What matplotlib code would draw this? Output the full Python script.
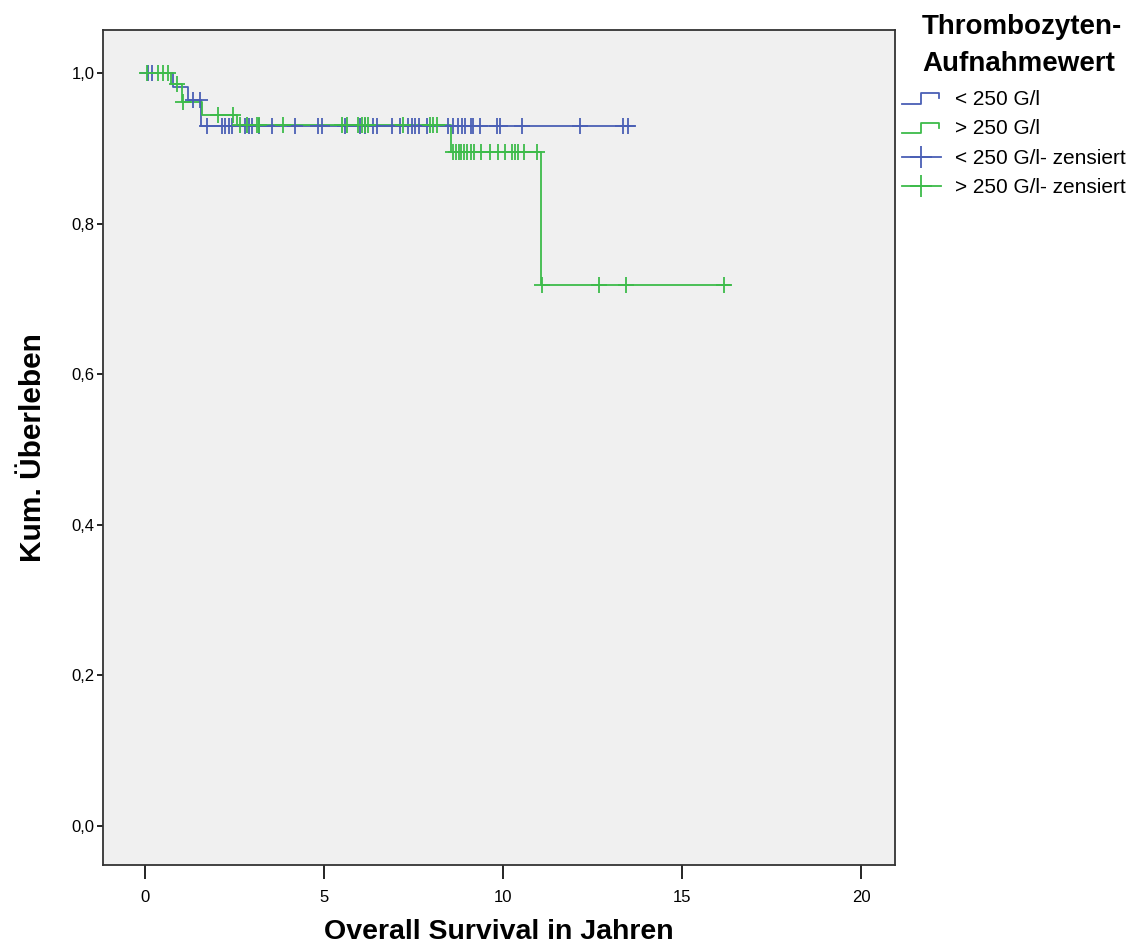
#!/usr/bin/env python3
"""
Kaplan-Meier curve: Overall Survival nach Thrombozyten-Aufnahmewert
"""
import numpy as np
import matplotlib
matplotlib.use("Agg")
import matplotlib.pyplot as plt
from matplotlib.lines import Line2D
from matplotlib.legend_handler import HandlerBase

plt.rcParams['font.family'] = ['Liberation Sans', 'DejaVu Sans']

# --- data (years / cumulative survival) ---
low_event_t = [0.78, 1.2, 1.56]
low_surv = [1.0, 0.981, 0.964, 0.929]
low_end = 13.66
low_cens = [0.1, 0.2, 1.35, 1.54, 1.73, 2.15, 2.25, 2.35, 2.43, 2.8, 2.9, 3.0,
            3.2, 3.55, 4.19, 4.83, 4.94, 5.59, 6.0, 6.15, 6.37, 6.48, 6.9, 7.12,
            7.35, 7.45, 7.55, 7.65, 7.88, 8.46, 8.6, 8.75, 8.85, 8.94, 9.1,
            9.15, 9.36, 9.83, 9.92, 10.53, 12.15, 13.35, 13.5]

high_event_t = [0.72, 1.03, 1.6, 2.57, 8.55, 11.06]
high_surv = [1.0, 0.985, 0.962, 0.944, 0.931, 0.895, 0.718]
high_end = 16.34
high_cens = [0.05, 0.36, 0.5, 0.64, 0.9, 1.06, 2.04, 2.46, 2.65, 2.85, 3.13,
             3.2, 3.86, 5.5, 5.64, 5.95, 6.05, 6.15, 6.23, 7.2, 7.96, 8.05,
             8.16, 8.6, 8.68, 8.76, 8.84, 8.92, 9.0, 9.1, 9.2, 9.4, 9.64, 9.86,
             10.05, 10.25, 10.33, 10.42, 10.6, 10.95, 11.1, 12.68, 13.43, 16.17]

labels = ['< 250 G/l', '> 250 G/l']
x_ticks = [0, 5, 10, 15, 20]
y_ticks = [0.0, 0.2, 0.4, 0.6, 0.8, 1.0]

BLUE = '#4a5fb5'
GREEN = '#3dbb4a'


def surv_at(events, surv, t):
    idx = np.searchsorted(events, t, side='right')
    return np.asarray(surv)[idx]


def draw_km(ax, events, surv, end, cens, color):
    t = [0.0] + list(events) + [end]
    s = list(surv) + [surv[-1]]
    ax.step(t, s, where='post', color=color, lw=1.3, zorder=3)
    ax.plot(cens, surv_at(events, surv, cens), ls='none', marker='+',
            ms=11, mew=1.3, color=color, zorder=4)


class StepHandler(HandlerBase):
    def create_artists(self, legend, orig_handle, xdescent, ydescent,
                       width, height, fontsize, trans):
        xs = np.array([0.0, 0.5, 0.5, 0.95, 0.95]) * width - xdescent
        ys = np.array([0.1, 0.1, 0.8, 0.8, 0.45]) * height - ydescent
        ln = Line2D(xs, ys, color=orig_handle.get_color(), lw=1.3,
                    transform=trans)
        return [ln]


fig = plt.figure(figsize=(11.48, 9.5), dpi=100)
ax = fig.add_axes([103 / 1148, 1 - 865 / 950, 792 / 1148, 835 / 950])
ax.set_facecolor('#f0f0f0')

draw_km(ax, low_event_t, low_surv, low_end, low_cens, BLUE)
draw_km(ax, high_event_t, high_surv, high_end, high_cens, GREEN)

ax.set_xlim(-1.17, 20.95)
ax.set_ylim(-0.052, 1.057)
ax.set_xticks(x_ticks)
ax.set_xticklabels([str(v) for v in x_ticks])
ax.set_yticks(y_ticks)
ax.set_yticklabels([f'{v:.1f}'.replace('.', ',') for v in y_ticks])
ax.tick_params(axis='x', direction='out', length=10, width=1.2, labelsize=12,
               pad=8)
ax.tick_params(axis='y', direction='out', length=4, width=1.2, labelsize=12,
               pad=2)
for sp in ax.spines.values():
    sp.set_color('#333333')
    sp.set_linewidth(1.3)

ax.set_xlabel('Overall Survival in Jahren', fontsize=20.5, fontweight='bold',
              labelpad=10)
ax.set_ylabel('Kum. Überleben', fontsize=21.5, fontweight='bold', labelpad=18)

# legend
fig.text(922 / 1148, 1 - 14 / 950, 'Thrombozyten-\nAufnahmewert',
         fontsize=20, fontweight='bold', va='top', ha='left', linespacing=1.55)
handles = [Line2D([], [], color=BLUE), Line2D([], [], color=GREEN),
           Line2D([], [], color=BLUE, marker='+', ms=16, mew=1.3, lw=1.3),
           Line2D([], [], color=GREEN, marker='+', ms=16, mew=1.3, lw=1.3)]
leg_labels = labels + [lab + '- zensiert' for lab in labels]
fig.legend(handles, leg_labels, loc='upper left',
           bbox_to_anchor=(902 / 1148, 1 - 90 / 950), frameon=False,
           fontsize=15, handlelength=1.85, handletextpad=0.7,
           labelspacing=0.5, borderpad=0, borderaxespad=0,
           handler_map={handles[0]: StepHandler(), handles[1]: StepHandler()})

fig.savefig('out.png', dpi=100)
